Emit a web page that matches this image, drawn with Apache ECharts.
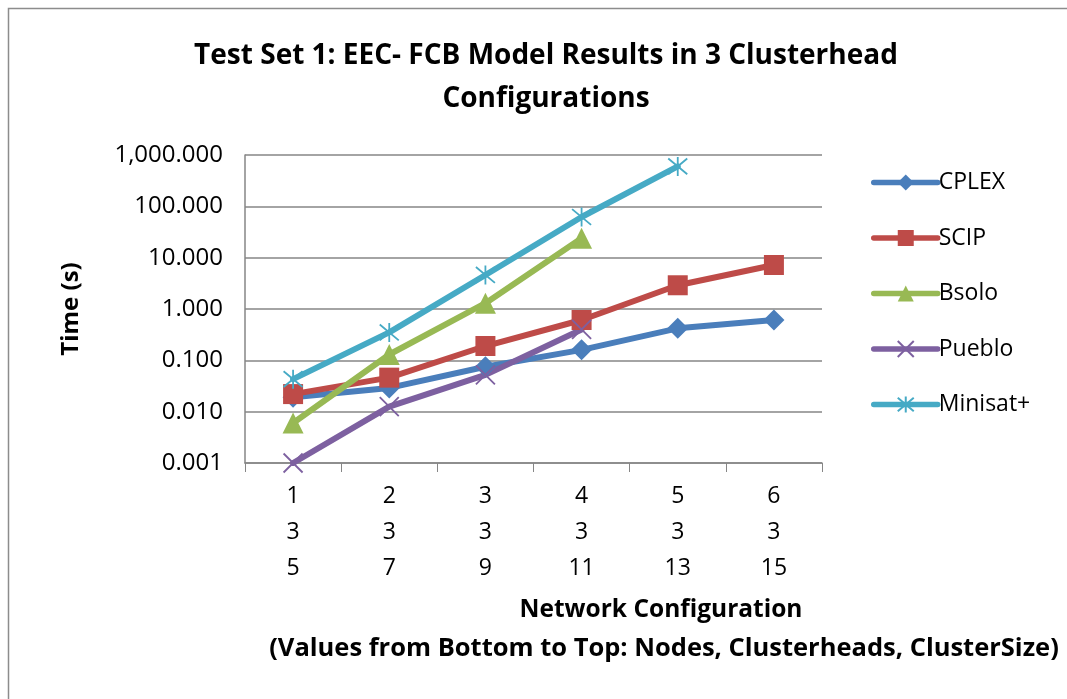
<!DOCTYPE html>
<html>
<head>
<meta charset="utf-8">
<script src="https://cdn.jsdelivr.net/npm/echarts@6/dist/echarts.min.js"></script>
<style>
  html, body { margin: 0; padding: 0; background: #fff; }
  #chart { width: 1067px; height: 699px; }
</style>
</head>
<body>
<div id="chart"></div>
<script>
const categories = ['1\n3\n5', '2\n3\n7', '3\n3\n9', '4\n3\n11', '5\n3\n13', '6\n3\n15'];
const cplex = [0.019, 0.029, 0.075, 0.16, 0.42, 0.61];
const scip = [0.022, 0.046, 0.19, 0.61, 2.9, 7.2];
const bsolo = [0.006, 0.13, 1.3, 24, null, null];
const pueblo = [0.001, 0.0125, 0.052, 0.4, null, null];
const minisat = [0.043, 0.35, 4.6, 62, 600, null];

const FONT = '"Open Sans", sans-serif';
const X_MARK = 'path://M0,0L20,20M20,0L0,20';
const STAR_MARK = 'path://M0,0L20,20M20,0L0,20M10,-2L10,22';
const LINE_W = 6;

function makeSeries(name, data, color, symbol, size, stroke) {
  const s = {
    name, type: 'line', data,
    symbol, symbolSize: size,
    lineStyle: { color: color, width: LINE_W, cap: 'round' },
    itemStyle: { color: color },
    emphasis: { disabled: true },
    connectNulls: false
  };
  if (stroke) s.itemStyle = { color: 'rgba(0,0,0,0)', borderColor: color, borderWidth: 1.8 };
  return s;
}

const chart = echarts.init(document.getElementById('chart'));
chart.setOption({
  animation: false,
  textStyle: { fontFamily: FONT },
  graphic: [{
    type: 'rect', shape: { x: 8.5, y: 8.5, width: 1100, height: 720 },
    style: { fill: 'none', stroke: '#8c8c8c', lineWidth: 1.5 }
  }],
  title: [
    {
      text: 'Test Set 1: EEC- FCB Model Results in 3 Clusterhead\nConfigurations',
      left: 541, top: 30, textAlign: 'center',
      textStyle: { fontFamily: FONT, fontSize: 28, fontWeight: 'bold', color: '#000', lineHeight: 43 }
    },
    {
      text: 'Network Configuration',
      left: 656, top: 593, textAlign: 'center',
      textStyle: { fontFamily: FONT, fontSize: 24.5, fontWeight: 'bold', color: '#000' }
    },
    {
      text: '(Values from Bottom to Top: Nodes, Clusterheads, ClusterSize)',
      left: 659, top: 631, textAlign: 'center',
      textStyle: { fontFamily: FONT, fontSize: 25.5, fontWeight: 'bold', color: '#000' }
    }
  ],
  legend: {
    orient: 'vertical', left: 866, top: 166, itemGap: 32.5,
    itemWidth: 64, itemHeight: 20,
    lineStyle: { width: 5.5, cap: 'round' },
    textStyle: { fontFamily: FONT, fontSize: 23, color: '#000', padding: [0, 0, 0, -4] },
    data: ['CPLEX', 'SCIP', 'Bsolo', 'Pueblo', 'Minisat+']
  },
  grid: { left: 245, right: 245, top: 155, bottom: 236 },
  xAxis: {
    type: 'category', data: categories, boundaryGap: true,
    axisLine: { lineStyle: { color: '#868686', width: 1.5 } },
    axisTick: { show: true, length: 9, lineStyle: { color: '#868686' } },
    axisLabel: { fontFamily: FONT, fontSize: 23, color: '#000', lineHeight: 36, margin: 15 }
  },
  yAxis: {
    type: 'log', logBase: 10, min: 0.001, max: 1000,
    name: 'Time (s)', nameLocation: 'middle', nameGap: 162, nameRotate: 90,
    nameTextStyle: { fontFamily: FONT, fontSize: 24, fontWeight: 'bold', color: '#000' },
    axisLine: { show: true, lineStyle: { color: '#868686', width: 1.5 } },
    axisTick: { show: false },
    splitLine: { lineStyle: { color: '#868686', width: 1.5 } },
    axisLabel: {
      fontFamily: FONT, fontSize: 24, color: '#000', margin: 22,
      formatter: v => Number(v).toLocaleString('en-US', { minimumFractionDigits: 3, maximumFractionDigits: 3 })
    }
  },
  series: [
    makeSeries('CPLEX', cplex, '#4a7ebb', 'diamond', 21),
    makeSeries('SCIP', scip, '#be4b48', 'rect', 20),
    makeSeries('Bsolo', bsolo, '#98b954', 'triangle', 21),
    makeSeries('Pueblo', pueblo, '#7d60a0', X_MARK, 19, true),
    makeSeries('Minisat+', minisat, '#46aac5', STAR_MARK, 19, true)
  ]
});
</script>
</body>
</html>
